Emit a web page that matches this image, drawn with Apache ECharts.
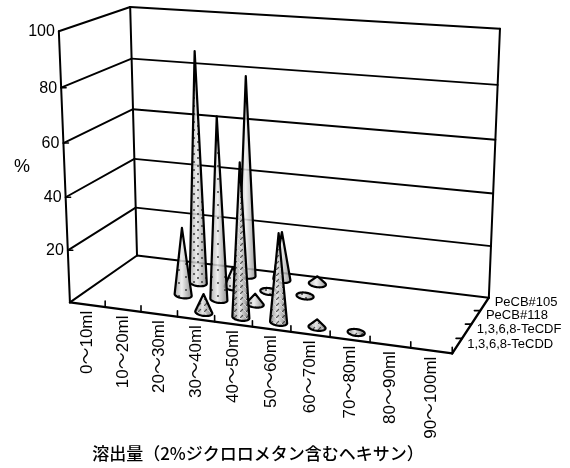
<!DOCTYPE html>
<html>
<head>
<meta charset="utf-8">
<style>html,body{margin:0;padding:0;background:#fff}#chart{width:570px;height:468px}</style>
<script src="https://cdn.jsdelivr.net/npm/echarts@6/dist/echarts.min.js"></script>
</head>
<body>
<div id="chart"></div>
<script>
// Fractions collected per eluate volume, one list per congener.
const categories = ['0～10ml','10～20ml','20～30ml','30～40ml','40～50ml','50～60ml','60～70ml','70～80ml','80～90ml','90～100ml'];
const seriesNames = ['1,3,6,8-TeCDD','1,3,6,8-TeCDF','PeCB#118','PeCB#105'];
const tecdd = [0,0,0,7,57,33,3,1,0,0];
const tecdf = [0,0,26,69,4,0,0,0,0,0];
const pecb118 = [0,0,89,8,1,1,0,0,0,0];
const pecb105 = [0,0,0,78,19,3,0,0,0,0];
const seriesValues = [tecdd, tecdf, pecb118, pecb105];
const yTicks = [20,40,60,80,100];
const yAxisName = '%';
const xAxisName = '溶出量（2%ジクロロメタン含むヘキサン）';

const LATIN = '"Liberation Sans","Noto Sans CJK JP",sans-serif';
const CJK = '"Noto Sans CJK JP","Liberation Sans",sans-serif';

// Oblique camera: where the box corners fall on the canvas (x, value, depth -> px).
const cameraAnchors = [
  [0,0,0, 70,302],[1,0,0, 452,354],[0,1,0, 59,31],[0,0,1, 137,256],
  [1,0,1, 489,297],[0,1,1, 130,7],[1,1,1, 500,29]
];

// Solves the 3x4 projection by least squares over the anchors.
function solveCamera(anchors) {
  const rows = [], rhs = [];
  anchors.forEach(function (a) {
    const X = a[0], Y = a[1], Z = a[2], u = a[3] / 500, v = a[4] / 500;
    rows.push([X,Y,Z,1,0,0,0,0,-u*X,-u*Y,-u*Z]); rhs.push(u);
    rows.push([0,0,0,0,X,Y,Z,1,-v*X,-v*Y,-v*Z]); rhs.push(v);
  });
  const n = 11, A = [];
  for (let i = 0; i < n; i++) {
    A.push(new Array(n + 1).fill(0));
    for (let j = 0; j < n; j++) rows.forEach(function (r) { A[i][j] += r[i] * r[j]; });
    rows.forEach(function (r, k) { A[i][n] += r[i] * rhs[k]; });
    A[i][i] += 1e-10;
  }
  for (let c = 0; c < n; c++) {
    let p = c;
    for (let r = c + 1; r < n; r++) if (Math.abs(A[r][c]) > Math.abs(A[p][c])) p = r;
    const t = A[c]; A[c] = A[p]; A[p] = t;
    for (let r = 0; r < n; r++) {
      if (r === c) continue;
      const f = A[r][c] / A[c][c];
      for (let k = c; k <= n; k++) A[r][k] -= f * A[c][k];
    }
  }
  return A.map(function (row, i) { return row[n] / row[i]; });
}
const cam = solveCamera(cameraAnchors);
function project(x, y, z) {
  const w = cam[8]*x + cam[9]*y + cam[10]*z + 1;
  return [500*(cam[0]*x + cam[1]*y + cam[2]*z + cam[3]) / w,
          500*(cam[4]*x + cam[5]*y + cam[6]*z + cam[7]) / w];
}

function hull(points) {
  const pts = points.slice().sort(function (a, b) { return a[0] - b[0] || a[1] - b[1]; });
  const cross = function (o, a, b) { return (a[0]-o[0])*(b[1]-o[1]) - (a[1]-o[1])*(b[0]-o[0]); };
  const half = function (list) {
    const out = [];
    list.forEach(function (p) {
      while (out.length > 1 && cross(out[out.length-2], out[out.length-1], p) <= 0) out.pop();
      out.push(p);
    });
    out.pop();
    return out;
  };
  return half(pts).concat(half(pts.reverse()));
}

// Tiles used over the cone shading, one per congener.
function makeTile(size, paint) {
  const c = document.createElement('canvas');
  c.width = c.height = size;
  paint(c.getContext('2d'), size);
  return { image: c, repeat: 'repeat' };
}
const textures = [
  makeTile(6, function (g, s) {
    g.strokeStyle = 'rgba(240,240,240,0.6)'; g.lineWidth = 1;
    g.beginPath(); g.moveTo(0,0); g.lineTo(s,s); g.stroke();
    g.strokeStyle = 'rgba(30,30,30,0.7)'; g.lineWidth = 1.2;
    g.beginPath(); g.moveTo(0,s); g.lineTo(3,3); g.stroke();
  }),
  makeTile(13, function (g) {
    g.fillStyle = 'rgba(50,50,50,0.7)'; g.fillRect(3,3,2,2); g.fillRect(9,9,2,2);
  }),
  makeTile(8, function (g) {
    g.fillStyle = 'rgba(50,50,50,0.7)'; g.fillRect(1,1,2,2); g.fillRect(5,5,2,2);
  }),
  null
];
const baseFills = [
  ['rgba(135,135,135,0.9)','rgba(225,225,225,0.9)','rgba(120,120,120,0.9)'],
  ['rgba(165,165,165,0.85)','rgba(235,235,235,0.85)','rgba(125,125,125,0.85)'],
  ['rgba(170,170,170,0.85)','rgba(232,232,232,0.85)','rgba(135,135,135,0.85)'],
  ['rgba(175,175,175,0.85)','rgba(240,240,240,0.85)','rgba(140,140,140,0.85)']
];

function coneItem(idx) {
  return function (params, api) {
    const value = api.value(1);
    if (!value) return null;
    const cs = params.coordSys;
    const px = api.coord([api.value(0), value]);
    const nx = (px[0] - cs.x) / cs.width;
    const ny = (cs.y + cs.height - px[1]) / cs.height;
    const nz = (idx + 0.5) / seriesNames.length;
    const c = project(nx, 0, nz), tip = project(nx, ny, nz), side = project(nx + 0.02, 0, nz);
    const len = Math.hypot(side[0]-c[0], side[1]-c[1]);
    const ux = (side[0]-c[0]) / len, uy = (side[1]-c[1]) / len;
    const a = 8.6, b = 3.4, outline = [tip];
    for (let t = 0; t < 40; t++) {
      const ca = Math.cos(t/40*2*Math.PI), sa = Math.sin(t/40*2*Math.PI);
      outline.push([c[0] + a*ca*ux - b*sa*uy, c[1] + a*ca*uy + b*sa*ux]);
    }
    const shape = { points: hull(outline) };
    const stops = baseFills[idx];
    const kids = [{
      type: 'polygon', shape: shape,
      style: { fill: { type:'linear', x:0, y:0, x2:1, y2:0, colorStops:[
        {offset:0,color:stops[0]},{offset:0.42,color:stops[1]},{offset:1,color:stops[2]}] } }
    }];
    if (textures[idx]) kids.push({ type:'polygon', shape: shape, style: { fill: textures[idx] } });
    kids.push({ type:'polygon', shape: shape,
      style: { fill:'none', stroke:'#000', lineWidth:2.2, lineJoin:'round' } });
    return { type:'group', children: kids };
  };
}

function frameItem(params, api) {
  const kids = [];
  const cs = params.coordSys;
  const line = function (a, b, w) {
    kids.push({ type:'line', shape:{x1:a[0],y1:a[1],x2:b[0],y2:b[1]},
      style:{ stroke:'#000', lineWidth:w, lineCap:'round' } });
  };
  const text = function (s, x, y, font, align, base, rot) {
    kids.push({ type:'text', x:x, y:y, rotation:rot||0,
      style:{ text:s, x:0, y:0, font:font, fill:'#000', align:align, verticalAlign:base } });
  };
  // walls and floor
  line(project(0,0,0), project(0,1,0), 2);
  line(project(0,0,1), project(0,1,1), 2);
  line(project(1,0,1), project(1,1,1), 2);
  line(project(0,1,0), project(0,1,1), 2);
  line(project(0,1,1), project(1,1,1), 2);
  line(project(0,0,0), project(0,0,1), 2);
  line(project(0,0,1), project(1,0,1), 2);
  line(project(0,0,0), project(1,0,0), 2.4);
  line(project(1,0,0), project(1,0,1), 2.4);
  // value gridlines, ticks and labels
  yTicks.forEach(function (t) {
    const ny = (cs.y + cs.height - api.coord([0, t])[1]) / cs.height;
    const f = project(0, ny, 0), bk = project(0, ny, 1), r = project(1, ny, 1);
    if (t < 100) {
      line(f, bk, 1.9); line(bk, r, 1.9);
      line(f, [f[0] + 5, f[1]], 1.5);
    }
    text(String(t), f[0] - 4, f[1] + (t === 100 ? 0 : 0.5), '16px ' + LATIN, 'right', 'middle');
  });
  // category ticks and rotated labels
  categories.forEach(function (name, i) {
    const tick = project((i + 1) / categories.length, 0, 0);
    line(tick, [tick[0], tick[1] - 6], 1.6);
    const p = project((i + 0.5) / categories.length, 0, 0);
    text(name, p[0], p[1] + 6, '17px ' + LATIN, 'right', 'middle', Math.PI / 2);
  });
  // depth ticks and congener labels
  seriesNames.forEach(function (name, i) {
    if (i > 0) {
      const tick = project(1, 0, i / seriesNames.length);
      line(tick, [tick[0] - 6, tick[1]], 1.6);
    }
    const p = project(1, 0, (i + 0.5) / seriesNames.length);
    text(name, p[0] + 10, p[1] - 1.5, '13px ' + LATIN, 'left', 'middle');
  });
  text(yAxisName, 22, 167, '18px ' + LATIN, 'center', 'middle');
  text(xAxisName, 258, 454, '500 17px ' + CJK, 'center', 'middle');
  return { type:'group', children: kids };
}

const chart = echarts.init(document.getElementById('chart'), null, { renderer:'canvas' });
const coneSeries = seriesNames.map(function (name, i) { return i; }).reverse().map(function (i) {
  return {
    type:'custom', name: seriesNames[i], coordinateSystem:'cartesian2d', clip:false, silent:true,
    renderItem: coneItem(i), z: 10 + (seriesNames.length - i),
    encode:{ x:0, y:1 },
    data: categories.map(function (c, k) { return [k, seriesValues[i][k]]; })
  };
});
chart.setOption({
  animation:false,
  backgroundColor:'#fff',
  grid:{ left:60, right:60, top:30, bottom:120 },
  xAxis:{ type:'category', data:categories, show:false },
  yAxis:{ type:'value', min:0, max:100, interval:20, show:false },
  series:[{
    type:'custom', name:'frame', coordinateSystem:'cartesian2d', clip:false, silent:true,
    renderItem: frameItem, z:1, data:[[0,0]]
  }].concat(coneSeries)
});
</script>
</body>
</html>
